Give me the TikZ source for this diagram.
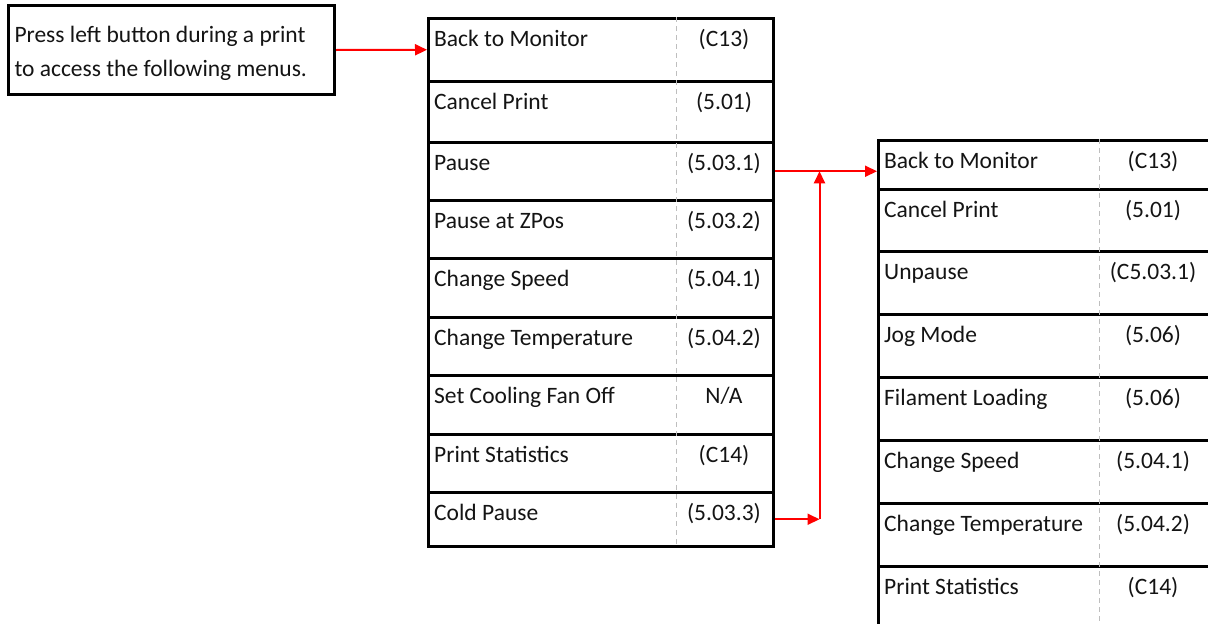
\documentclass[tikz,border=0pt]{standalone}
\usepackage{fontspec}
\setmainfont{Carlito}
\usetikzlibrary{calc,arrows.meta,positioning}
\definecolor{linkred}{RGB}{255,0,0}
\definecolor{inktext}{RGB}{20,20,20}
\definecolor{dashgray}{RGB}{190,190,190}

\begin{document}
\begin{tikzpicture}[x=1pt,y=-1pt,>={Triangle[length=12pt,width=11pt]},
      notebox/.style={draw=black,line width=3pt,anchor=north west,align=flush left,inner xsep=6pt,
        text width=314pt,text height=24pt,minimum height=89pt,text=inktext,
        font=\fontsize{23.5}{34}\selectfont},
      rowbox/.style={draw=black,line width=2.5pt,inner sep=0pt,anchor=north west},
      itemtxt/.style={inner sep=0pt,text=inktext,font=\fontsize{23.5}{28}\selectfont},
      divider/.style={draw=dashgray,line width=1pt,dash pattern=on 5pt off 4pt},
      link/.style={draw=linkred,line width=2pt}]
    \useasboundingbox (0,0) rectangle (1208,624);
    \clip (0,0) rectangle (1208,624);
    \fill[white] (0,0) rectangle (1208,624);
    % note at top left
    \node[notebox] (note) at (7,4) {Press left button during a print\\to access the following menus.};
    % print menu
    \foreach \nm/\top/\bot/\txt/\code in {m1/17/80/Back to Monitor/(C13),
        m2/80/141/Cancel Print/(5.01), m3/141/199/Pause/(5.03.1),
        m4/199/257/Pause at ZPos/(5.03.2), m5/257/316/Change Speed/(5.04.1),
        m6/316/374/Change Temperature/(5.04.2), m7/374/433/Set Cooling Fan Off/{N/A},
        m8/433/491/Print Statistics/(C14), m9/491/545/Cold Pause/(5.03.3)}{
      \node[rowbox,minimum width=345pt,minimum height={(\bot-\top)*1pt}] (\nm) at (427,\top) {};
      \node[itemtxt,anchor=base west] (\nm-t) at ([shift={(7pt,-29pt)}]\nm.north west) {\txt};
      \node[itemtxt,anchor=base] (\nm-c) at ([shift={(297pt,-29pt)}]\nm.north west) {\code};
    }
    \draw[divider] ($(m1.north west)+(249pt,0)$) -- ($(m9.south west)+(249pt,0)$);
    % pause menu
    \foreach \nm/\top/\bot/\txt/\code in {r1/139/188/Back to Monitor/(C13),
        r2/188/250/Cancel Print/(5.01), r3/250/313/Unpause/(C5.03.1),
        r4/313/376/Jog Mode/(5.06), r5/376/439/Filament Loading/(5.06),
        r6/439/502/Change Speed/(5.04.1), r7/502/565/Change Temperature/(5.04.2),
        r8/565/630/Print Statistics/(C14)}{
      \node[rowbox,minimum width=335pt,minimum height={(\bot-\top)*1pt}] (\nm) at (877,\top) {};
      \node[itemtxt,anchor=base west] (\nm-t) at ([shift={(7pt,-29pt)}]\nm.north west) {\txt};
      \node[itemtxt,anchor=base] (\nm-c) at ([shift={(276pt,-29pt)}]\nm.north west) {\code};
    }
    \draw[divider] ($(r1.north west)+(222pt,0)$) -- ($(r8.south west)+(222pt,0)$);
    % links
    \draw[link,->] (note.east) -- (m1.west);
    \draw[link,->] (m3.east) -- (m3.east -| r1.west);
    \coordinate (jn) at ($(m9.east)+(45pt,0)$);
    \draw[link,->] (m9.east) -- (jn);
    \draw[link,->] (jn) -- (jn |- m3.east);
\end{tikzpicture}
\end{document}
